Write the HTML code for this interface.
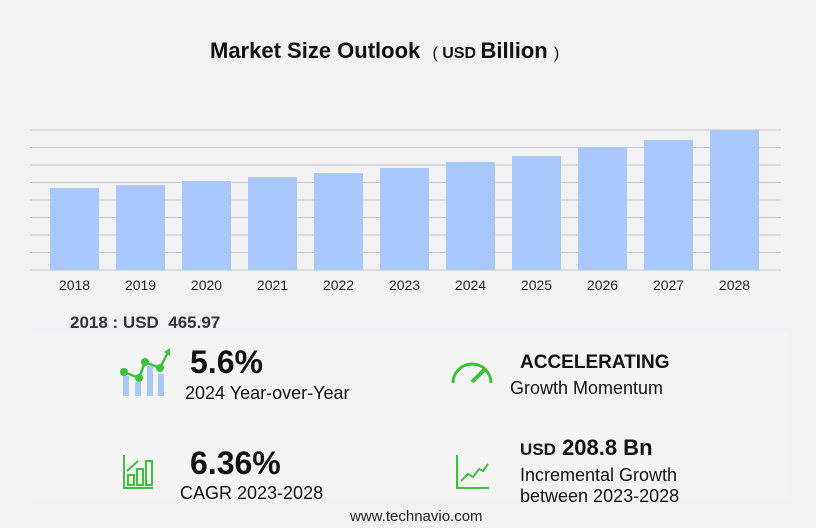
<!DOCTYPE html>
<html><head><meta charset="utf-8"><style>
body{margin:0;width:816px;height:528px;background:#f2f2f4;font-family:"Liberation Sans","DejaVu Sans",sans-serif;position:relative;overflow:hidden;color:#111}
.a{position:absolute;white-space:nowrap}
</style></head><body>
<div class="a" style="left:210px;top:38px;font-size:22px;font-weight:bold">Market Size Outlook &nbsp;<span style="font-size:16px;font-weight:normal">( <b>USD</b> </span>Billion <span style="font-size:16px;font-weight:normal">)</span></div>
<svg id="chart" class="a" style="left:0;top:0" width="816" height="300"></svg>
<div class="a" style="left:70px;top:313px;font-size:17px;font-weight:bold;color:#333">2018 : USD&nbsp; 465.97</div>
<div class="a" style="left:32px;top:332px;width:758px;height:165px;background:#f4f4f5"></div>
<svg class="a" style="left:118px;top:348px" width="54" height="50"><g fill="#a8c8f8"><rect x="5" y="28" width="6" height="20"/><rect x="17" y="34" width="6" height="14"/><rect x="29" y="18" width="6" height="30"/><rect x="40" y="26" width="6" height="22"/></g><polyline points="6,24 21,30 27,14 42,20 50,4" fill="none" stroke="#3cc23c" stroke-width="2.5"/><g fill="#3cc23c"><circle cx="6" cy="24" r="4"/><circle cx="21" cy="30" r="4"/><circle cx="27" cy="14" r="4"/><circle cx="42" cy="20" r="4"/><polygon points="46,4 52,0 52,8"/></g></svg>
<div class="a" style="left:190px;top:344px;font-size:32px;font-weight:bold">5.6%</div>
<div class="a" style="left:185px;top:383px;font-size:18px">2024 Year-over-Year</div>
<svg class="a" style="left:450px;top:360px" width="45" height="25"><path d="M3,23 A19,19 0 0 1 41,23" fill="none" stroke="#3cc23c" stroke-width="3"/><line x1="22" y1="22" x2="36" y2="8" stroke="#3cc23c" stroke-width="4"/></svg>
<div class="a" style="left:520px;top:352px;font-size:19px;font-weight:bold">ACCELERATING</div>
<div class="a" style="left:510px;top:378px;font-size:18px">Growth Momentum</div>
<svg class="a" style="left:122px;top:455px" width="32" height="35"><path d="M2,0V33H31" fill="none" stroke="#3cc23c" stroke-width="2"/><g fill="none" stroke="#3cc23c" stroke-width="2"><rect x="6" y="20" width="6" height="10"/><rect x="15" y="14" width="6" height="16"/><rect x="24" y="6" width="6" height="24"/></g><polyline points="5,16 16,6" stroke="#3cc23c" stroke-width="2"/></svg>
<div class="a" style="left:190px;top:445px;font-size:32px;font-weight:bold">6.36%</div>
<div class="a" style="left:180px;top:483px;font-size:18px">CAGR 2023-2028</div>
<svg class="a" style="left:455px;top:455px" width="35" height="35"><path d="M2,0V33H34" fill="none" stroke="#3cc23c" stroke-width="2"/><polyline points="6,26 13,19 18,22 24,14 28,16 33,9" fill="none" stroke="#3cc23c" stroke-width="2"/></svg>
<div class="a" style="left:520px;top:435px;font-size:22px;font-weight:bold"><span style="font-size:17px">USD</span> 208.8 Bn</div>
<div class="a" style="left:520px;top:465px;font-size:18px;line-height:21px">Incremental Growth<br>between 2023-2028</div>
<div class="a" style="left:350px;top:508px;font-size:15px;color:#222">www.technavio.com</div>
<script>
const categories=["2018","2019","2020","2021","2022","2023","2024","2025","2026","2027","2028"];
const values=[465.97,483,506,528,551,580,614,648,699,739,796];
const yMax=796;
const svg=document.getElementById('chart');
const NS='http://www.w3.org/2000/svg';
const baseY=270,topY=130,x0=50,pitch=66,bw=49;
function yScale(v){return baseY-(v/yMax)*(baseY-topY);}
function xScale(i){return x0+i*pitch;}
for(let k=0;k<=8;k++){
 const gy=baseY-k*(baseY-topY)/8;
 const l=document.createElementNS(NS,'line');
 l.setAttribute('x1',30);l.setAttribute('x2',781);l.setAttribute('y1',gy);l.setAttribute('y2',gy);
 l.setAttribute('stroke','#c8c8ca');l.setAttribute('stroke-width','1');
 
 
 svg.appendChild(l);
}
values.forEach((v,i)=>{
 const r=document.createElementNS(NS,'rect');
 r.setAttribute('x',xScale(i));r.setAttribute('y',yScale(v));r.setAttribute('width',bw);r.setAttribute('height',baseY-yScale(v));
 r.setAttribute('fill','#a8c8fc');
 
 
 svg.appendChild(r);
 const t=document.createElementNS(NS,'text');
 t.setAttribute('x',xScale(i)+bw/2);t.setAttribute('y',290);t.setAttribute('text-anchor','middle');
 t.setAttribute('font-size','14');t.setAttribute('fill','#222');t.setAttribute('font-family','Liberation Sans, sans-serif');
 t.textContent=categories[i];
 
 
 svg.appendChild(t);
});
</script>
</body></html>
